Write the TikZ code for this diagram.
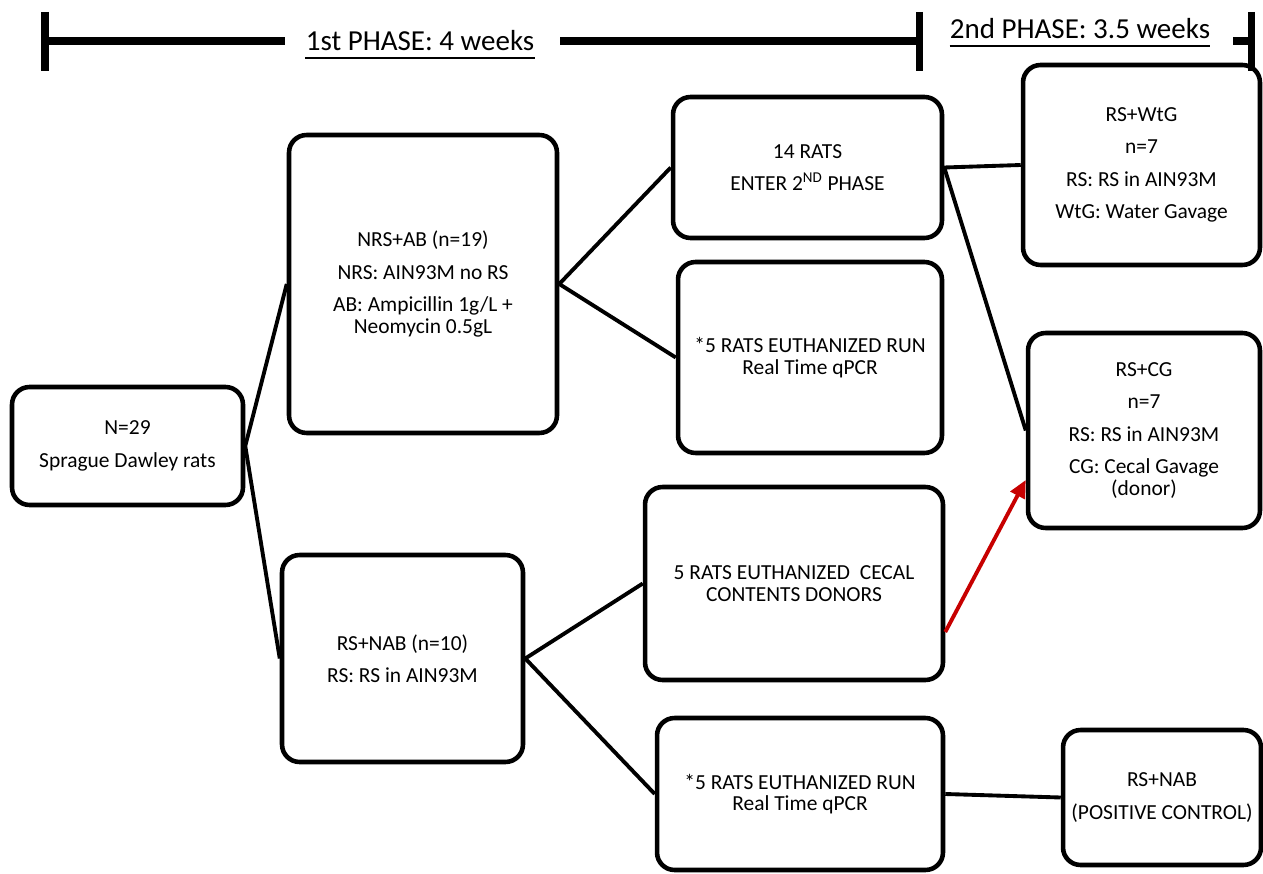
\documentclass[tikz,border=0pt]{standalone}
\usepackage{fontspec}
\setmainfont{Carlito}
\usetikzlibrary{arrows.meta}

\newcommand{\boxfont}{\fontsize{12.2}{12.3}\selectfont}
\newcommand{\gap}{\\[6.2pt]}

\begin{document}
\begin{tikzpicture}[x=0.02cm, y=-0.02cm,
    box/.style={draw, line width=2.6pt, rounded corners=0.35cm, align=center, font=\boxfont, inner sep=2pt},
    link/.style={line width=2.2pt},
    bar/.style={line width=4.5pt},
    tickmark/.style={line width=4pt},
    phase/.style={font=\fontsize{16.5}{19}\selectfont, inner sep=0pt, anchor=base}]

    \useasboundingbox (0,0) rectangle (1263,874);

    % Timeline
    \coordinate (t0) at (45,41);
    \coordinate (t1) at (919,41);
    \coordinate (t2) at (1251,41);
    \node[phase] (ph1) at (420,51) {1st PHASE: 4 weeks};
    \node[phase] (ph2) at (1080,39) {2nd PHASE: 3.5 weeks};
    \draw[line width=1.2pt] ([yshift=-4pt]ph1.base west) -- ([yshift=-4pt]ph1.base east);
    \draw[line width=1.2pt] ([yshift=-4pt]ph2.base west) -- ([yshift=-4pt]ph2.base east);
    \draw[bar] (t0) -- (285,41);
    \draw[bar] (560,41) -- (t1);
    \draw[bar] (1233,41) -- (t2);
    \foreach \t in {t0,t1,t2}
        \draw[tickmark] ([yshift=0.58cm]\t) -- ([yshift=-0.6cm]\t);

    % First phase
    \node[box, minimum width=4.62cm, minimum height=2.36cm] (n29) at (127.5,446)
        {N=29\gap Sprague Dawley rats};
    \node[box, minimum width=5.36cm, minimum height=5.96cm] (nrsab) at (423,284)
        {NRS+AB (n=19)\gap NRS: AIN93M no RS\gap AB: Ampicillin 1g/L +\\ Neomycin 0.5gL};
    \node[box, minimum width=4.82cm, minimum height=4.14cm] (rsnab) at (402.5,658.5)
        {RS+NAB (n=10)\gap RS: RS in AIN93M};

    \node[box, minimum width=5.38cm, minimum height=2.82cm] (rats14) at (807.5,167.5)
        {14 RATS\gap ENTER 2\textsuperscript{ND} PHASE};
    \node[box, minimum width=5.28cm, minimum height=3.82cm] (euthA) at (810,357.5)
        {*5 RATS EUTHANIZED RUN\\ Real Time qPCR};
    \node[box, minimum width=5.96cm, minimum height=3.86cm] (cecal) at (794,583.5)
        {5 RATS EUTHANIZED\ \ CECAL\\ CONTENTS DONORS};
    \node[box, minimum width=5.72cm, minimum height=3.04cm] (euthB) at (800,794)
        {*5 RATS EUTHANIZED RUN\\ Real Time qPCR};

    % Second phase
    \node[box, minimum width=4.74cm, minimum height=4cm] (rswtg) at (1141.5,165)
        {RS+WtG\gap n=7\gap RS: RS in AIN93M\gap WtG: Water Gavage};
    \node[box, minimum width=4.64cm, minimum height=3.9cm] (rscg) at (1144,430.5)
        {RS+CG\gap n=7\gap RS: RS in AIN93M\gap CG: Cecal Gavage\\ (donor)};
    \node[box, minimum width=3.96cm, minimum height=2.7cm] (posctl) at (1162,797.5)
        {RS+NAB\gap (POSITIVE CONTROL)};

    % Connectors
    \draw[link] (nrsab.west) -- (n29.east) -- (rsnab.west);
    \draw[link] (rats14.west) -- (nrsab.east) -- (euthA.west);
    \draw[link] (cecal.west) -- (rsnab.east) -- (euthB.west);
    \draw[link] (rswtg.west) -- (rats14.east) -- (rscg.west);
    \draw[link] (euthB.east) -- (posctl.west);
    \draw[link, red!78!black, -{Triangle[length=10pt, width=9pt]}]
        ([yshift=-0.97cm]cecal.east) -- ([yshift=-0.99cm]rscg.west);

\end{tikzpicture}
\end{document}
